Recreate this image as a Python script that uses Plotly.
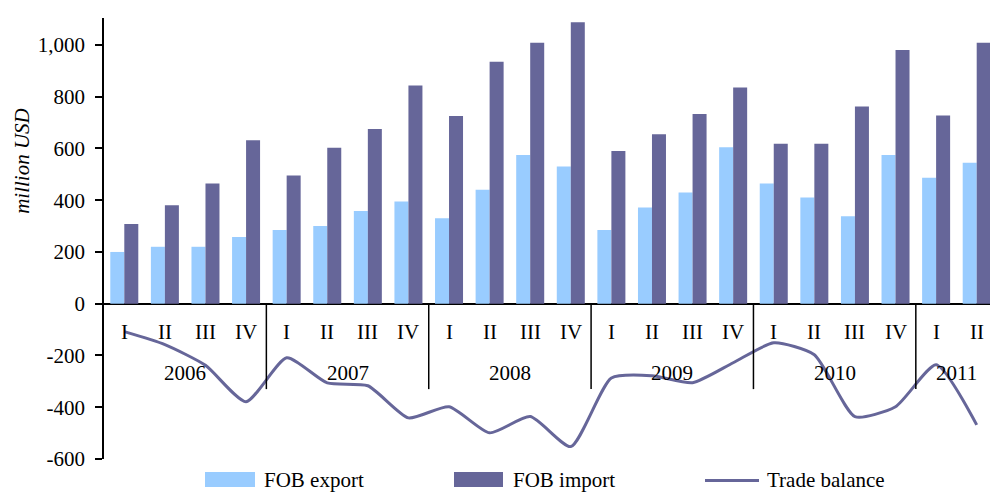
import plotly.graph_objects as go

years = ["2006", "2007", "2008", "2009", "2010", "2011"]
quarters = ["I", "II", "III", "IV"] * 5 + ["I", "II"]
fob_export = [200, 220, 220, 258, 285, 300, 358, 395, 330, 440, 575, 530,
              285, 372, 430, 605, 465, 410, 338, 575, 487, 545]
fob_import = [308, 380, 465, 632, 495, 603, 675, 843, 725, 935, 1008, 1088,
              590, 655, 733, 835, 618, 618, 762, 980, 727, 1008]
trade_balance = [-108, -158, -238, -379, -209, -306, -317, -441, -398, -499, -436, -552,
                 -287, -278, -305, -228, -151, -197, -436, -398, -236, -468]
y_tick_vals = [-600, -400, -200, 0, 200, 400, 600, 800, 1000]
y_tick_text = ["-600", "-400", "-200", "0", "200", "400", "600", "800", "1,000"]

FONT = "Liberation Serif, Times New Roman, serif"
FS = 21
C_EXP = "#99CCFF"
C_IMP = "#666699"

x = list(range(len(quarters)))

fig = go.Figure()
fig.add_trace(go.Bar(x=x, y=fob_export, name="FOB export", marker=dict(color=C_EXP, line=dict(width=0))))
fig.add_trace(go.Bar(x=x, y=fob_import, name="FOB import", marker=dict(color=C_IMP, line=dict(width=0))))
fig.add_trace(go.Scatter(x=x, y=trade_balance, name="Trade balance", mode="lines",
                         line=dict(color=C_IMP, width=3, shape="spline", smoothing=0.6)))

annotations = []
shapes = []
for i, q in enumerate(quarters):
    annotations.append(dict(x=i, y=-108, xref="x", yref="y", text=q, showarrow=False,
                            font=dict(family=FONT, size=FS, color="black")))
starts = [0, 4, 8, 12, 16, 20]
for k, yr in enumerate(years):
    s = starts[k]
    e = starts[k + 1] - 1 if k + 1 < len(starts) else len(quarters) - 1
    annotations.append(dict(x=(s + e) / 2, y=-268, xref="x", yref="y", text=yr, showarrow=False,
                            font=dict(family=FONT, size=FS, color="black")))
    if k > 0:
        shapes.append(dict(type="line", xref="x", yref="y", x0=s - 0.5, x1=s - 0.5, y0=0, y1=-330,
                           line=dict(color="black", width=1.5)))

# page offset (body margin of 8px)
OFF = 8
L, W = 104, 893
TOP, H = 18, 441
def px_x(p):
    return (p - L) / W
def px_y(p):
    return (TOP + H - p) / H

annotations.append(dict(x=px_x(22), y=552, xref="paper", yref="y", text="<i>million USD</i>",
                        xanchor="center", yanchor="middle",
                        textangle=-90, showarrow=False, font=dict(family=FONT, size=FS, color="black")))

shapes.append(dict(type="rect", xref="paper", yref="paper", x0=px_x(205), x1=px_x(255),
                   y0=px_y(487), y1=px_y(472), fillcolor=C_EXP, line=dict(width=0)))
shapes.append(dict(type="rect", xref="paper", yref="paper", x0=px_x(454), x1=px_x(503),
                   y0=px_y(487), y1=px_y(472), fillcolor=C_IMP, line=dict(width=0)))
shapes.append(dict(type="line", xref="paper", yref="paper", x0=px_x(705), x1=px_x(759),
                   y0=px_y(480.5), y1=px_y(480.5), line=dict(color=C_IMP, width=3)))
for px0, txt in [(262, "FOB export"), (511, "FOB import"), (765, "Trade balance")]:
    annotations.append(dict(x=px_x(px0), y=px_y(480), xref="paper", yref="paper", text=txt,
                            xanchor="left", yanchor="middle", showarrow=False,
                            font=dict(family=FONT, size=FS, color="black")))

fig.update_layout(
    width=998 - OFF, height=492 - OFF,
    margin=dict(l=L - OFF, r=1, t=TOP - OFF, b=492 - OFF - (TOP - OFF) - H),
    paper_bgcolor="white", plot_bgcolor="white",
    barmode="group", bargap=0.31, bargroupgap=0,
    showlegend=False,
    font=dict(family=FONT, size=FS, color="black"),
    xaxis=dict(range=[-0.5, len(quarters) - 0.5], showticklabels=False, showgrid=False,
               zeroline=False, showline=False, ticks=""),
    yaxis=dict(range=[-600, 1104], tickvals=y_tick_vals, ticktext=y_tick_text,
               showgrid=False, showline=True, linecolor="black", linewidth=1.5,
               ticks="outside", ticklen=7, tickwidth=1.5, tickcolor="black",
               ticklabelstandoff=6,
               zeroline=True, zerolinecolor="black", zerolinewidth=1.5,
               tickfont=dict(family=FONT, size=FS, color="black")),
    annotations=annotations, shapes=shapes,
)

fig.write_html("out.html")
